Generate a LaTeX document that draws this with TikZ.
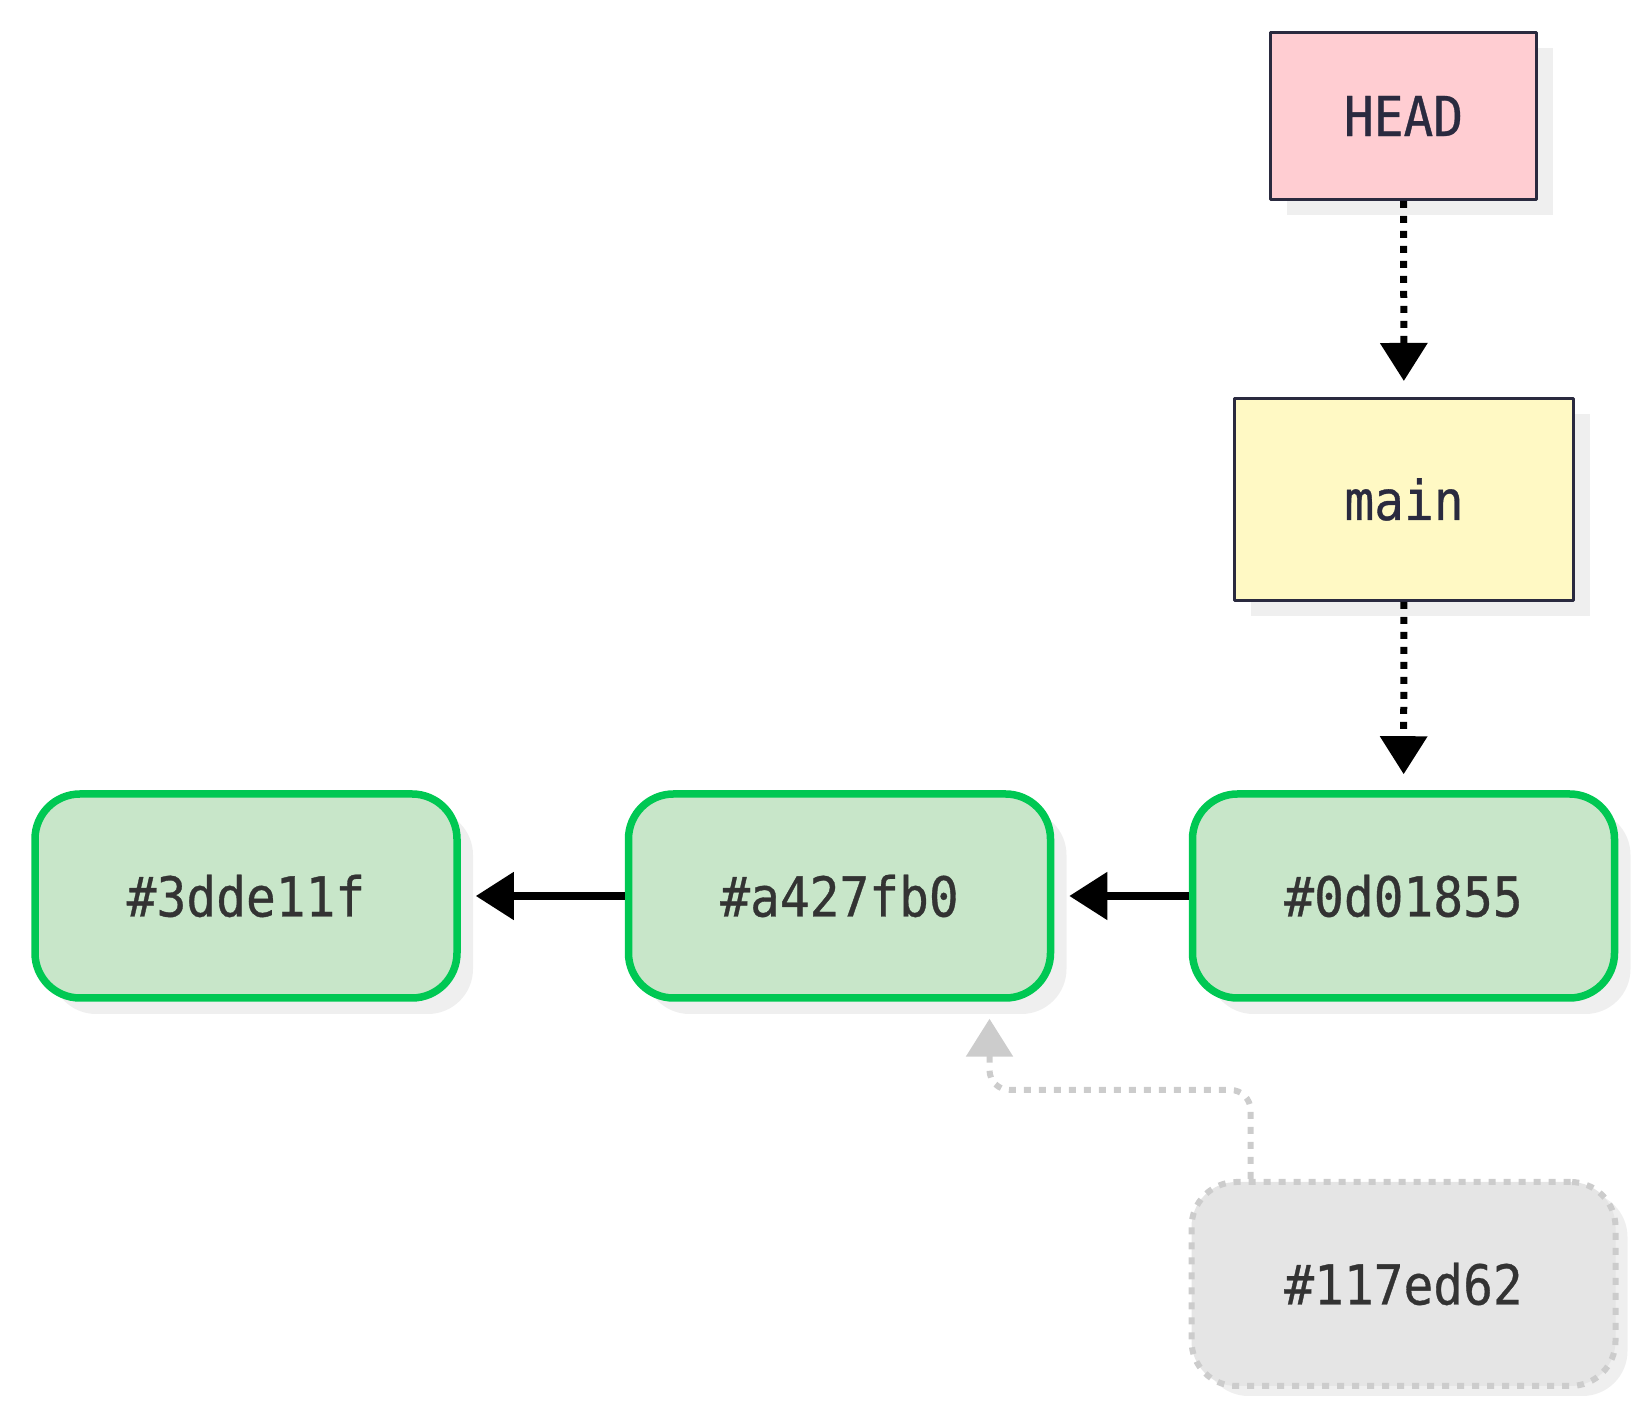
\documentclass[tikz,border=0pt]{standalone}
\usepackage{fontspec}
\setmonofont{DejaVu Sans Mono}[FakeStretch=0.9,FakeBold=0.6]
\usetikzlibrary{arrows.meta,shadows}
\definecolor{ffcdd2}{rgb}{1,0.804,0.824}
\definecolor{fff9c4}{rgb}{1,0.976,0.769}
\definecolor{ccezcc}{rgb}{0.784,0.902,0.788}
\definecolor{qqccff}{rgb}{0,0.784,0.325}
\definecolor{efefef}{rgb}{0.937,0.937,0.937}
\definecolor{eeeeee}{rgb}{0.898,0.898,0.898}
\definecolor{cccccc}{rgb}{0.8,0.8,0.8}
\definecolor{zzzzzz}{rgb}{0.2,0.2,0.2}
\definecolor{zzzztt}{rgb}{0.165,0.165,0.247}

\begin{document}
\begin{tikzpicture}[line cap=butt,line join=round,x=1pt,y=1pt,
	>={Triangle[length=38pt,width=46pt]},
	font=\ttfamily\fontsize{55}{66}\selectfont,
	refbox/.style={draw=zzzztt,line width=3pt,text=zzzztt,minimum width=266pt,minimum height=167pt,
		general shadow={fill=efefef,shadow xshift=16pt,shadow yshift=-16pt}},
	commit/.style={draw=qqccff,fill=ccezcc,line width=7.5pt,rounded corners=45pt,text=zzzzzz,
		minimum width=422pt,minimum height=204pt,
		general shadow={fill=efefef,shadow xshift=16pt,shadow yshift=-16pt}},
	ghostcommit/.style={draw=cccccc,fill=eeeeee,line width=6pt,dash pattern=on 7pt off 8pt,rounded corners=45pt,
		text=zzzzzz,minimum width=424pt,minimum height=204pt,
		general shadow={fill=efefef,shadow xshift=12pt,shadow yshift=-10pt}},
	refarrow/.style={->,line width=7pt,dash pattern=on 7pt off 8pt,shorten >=16pt},
	parentarrow/.style={->,line width=8pt,shorten >=15pt},
	ghostarrow/.style={->,draw=cccccc,line width=6pt,dash pattern=on 7pt off 8pt,rounded corners=20pt,shorten >=17pt}]
		\useasboundingbox (0,0) rectangle (1650,1420);
		\node[refbox,fill=ffcdd2] (head) at (1403.5,1304) {HEAD};
		\node[refbox,fill=fff9c4,minimum width=339pt,minimum height=202pt] (main) at (1404,920.5) {main};
		\node[commit] (c1) at (246,524) {\#3dde11f};
		\node[commit] (c2) at (839.5,524) {\#a427fb0};
		\node[commit] (c3) at (1403.5,524) {\#0d01855};
		\node[ghostcommit] (ghost) at (1403.5,136) {\#117ed62};
		\draw[refarrow] (head) -- (main);
		\draw[refarrow] (main) -- (c3);
		\draw[parentarrow] (c2) -- (c1);
		\draw[parentarrow] (c3) -- (c2);
		\draw[ghostarrow] ([xshift=62pt]ghost.north west) -- ++(0,89) -| ([xshift=150pt]c2.south);
	\end{tikzpicture}
\end{document}
